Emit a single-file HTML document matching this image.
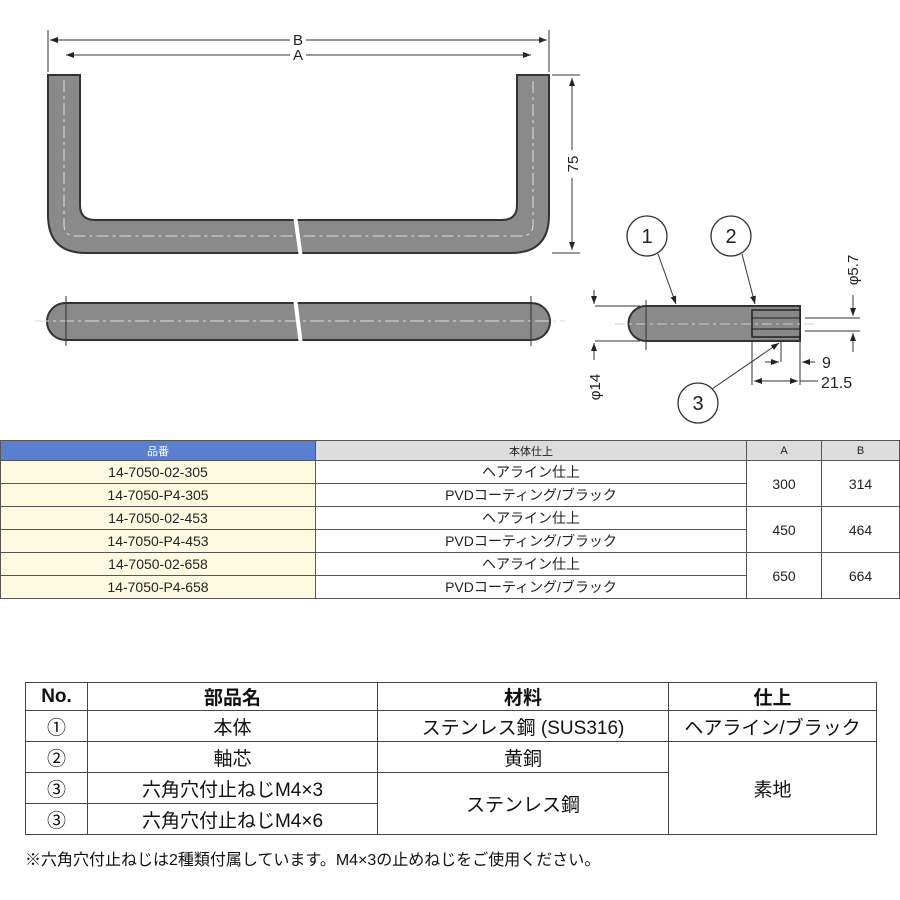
<!DOCTYPE html>
<html><head><meta charset="utf-8"><style>
body{margin:0;width:900px;height:900px;background:#fff;font-family:"Liberation Sans","Noto Sans CJK JP",sans-serif;position:relative;overflow:hidden}
svg{position:absolute;left:0;top:0}
table{position:absolute;border-collapse:collapse}
#t1{left:0;top:440px;width:900px;font-size:14px;color:#222}
#t1 td{border:1px solid #555;height:22px;padding:0;text-align:center}
#t1 .h td{background:#ddd;height:19px;font-size:11px}
#t1 .h td.b{background:#5b7fd0;color:#fff}
#t1 td.y{background:#fcfbe2}
#t2{left:25px;top:682px;width:852px;font-size:19px;color:#111}
#t2 td{border:1.5px solid #444;height:30px;padding:0;text-align:center}
#t2 .h td{font-weight:bold;height:27px}
#note{position:absolute;left:25px;top:846px;font-size:16px;color:#111}
</style></head><body>
<svg width="900" height="440" viewBox="0 0 900 440" font-family="Liberation Sans, sans-serif">
<defs><marker id="a" markerWidth="8" markerHeight="6" refX="8" refY="3" orient="auto"><path d="M0,0L8,3L0,6z" fill="#222"/></marker></defs>
<path d="M48,75 H80 V205 Q80,220 95,220 H502 Q517,220 517,205 V75 H549 V215 Q549,253 511,253 H86 Q48,253 48,215 Z" fill="#8a8a8a" stroke="#333" stroke-width="2"/>
<path d="M64,80 V225 Q64,236 76,236 H521 Q533,236 533,225 V80" fill="none" stroke="#ddd" stroke-dasharray="12,4,3,4" stroke-width="1"/>
<line x1="295" y1="215" x2="301" y2="258" stroke="#fff" stroke-width="4"/>
<line x1="48" y1="30" x2="48" y2="72" stroke="#333"/><line x1="549" y1="30" x2="549" y2="72" stroke="#333"/>
<line x1="50" y1="40" x2="547" y2="40" stroke="#333" marker-end="url(#a)"/><line x1="547" y1="40" x2="50" y2="40" stroke="#333" marker-end="url(#a)"/>
<line x1="66" y1="55" x2="531" y2="55" stroke="#333" marker-end="url(#a)"/><line x1="531" y1="55" x2="66" y2="55" stroke="#333" marker-end="url(#a)"/>
<rect x="290" y="33" width="16" height="13" fill="#fff"/><rect x="290" y="48" width="16" height="13" fill="#fff"/>
<text x="298" y="45" font-size="15" text-anchor="middle" fill="#222">B</text>
<text x="298" y="60" font-size="15" text-anchor="middle" fill="#222">A</text>
<line x1="552" y1="75" x2="580" y2="75" stroke="#333"/><line x1="552" y1="253" x2="580" y2="253" stroke="#333"/>
<line x1="572" y1="78" x2="572" y2="250" stroke="#333" marker-end="url(#a)"/><line x1="572" y1="250" x2="572" y2="78" stroke="#333" marker-end="url(#a)"/>
<rect x="564" y="150" width="16" height="28" fill="#fff"/>
<text x="0" y="0" font-size="15" fill="#222" transform="translate(578,164) rotate(-90)" text-anchor="middle">75</text>
<rect x="47" y="303" width="503" height="37" rx="18.5" fill="#8a8a8a" stroke="#333" stroke-width="2"/>
<line x1="35" y1="321" x2="565" y2="321" stroke="#ddd" stroke-dasharray="14,4,3,4"/>
<line x1="66" y1="296" x2="66" y2="346" stroke="#333"/><line x1="531" y1="296" x2="531" y2="346" stroke="#333"/>
<line x1="295" y1="298" x2="301" y2="345" stroke="#fff" stroke-width="4"/>
<path d="M646,306 H800 V341 H646 A17.5,17.5 0 0 1 646,306Z" fill="#8a8a8a" stroke="#333" stroke-width="2"/>
<rect x="752" y="310" width="48" height="27" fill="#888" stroke="#222" stroke-width="1.5"/>
<line x1="752" y1="318" x2="800" y2="318" stroke="#222"/><line x1="752" y1="329" x2="800" y2="329" stroke="#222"/>
<line x1="615" y1="324" x2="815" y2="324" stroke="#ccc" stroke-dasharray="10,4,3,4"/>
<line x1="646" y1="300" x2="646" y2="350" stroke="#333"/>
<line x1="595" y1="306" x2="640" y2="306" stroke="#333"/><line x1="595" y1="341" x2="640" y2="341" stroke="#333"/>
<line x1="594" y1="290" x2="594" y2="304" stroke="#333" marker-end="url(#a)"/><line x1="594" y1="360" x2="594" y2="343" stroke="#333" marker-end="url(#a)"/>
<text transform="translate(600,387) rotate(-90)" font-size="15" text-anchor="middle" fill="#222">φ14</text>
<line x1="805" y1="318" x2="860" y2="318" stroke="#333"/><line x1="805" y1="331" x2="860" y2="331" stroke="#333"/>
<line x1="853" y1="295" x2="853" y2="316" stroke="#333" marker-end="url(#a)"/><line x1="853" y1="352" x2="853" y2="333" stroke="#333" marker-end="url(#a)"/>
<text transform="translate(858,270) rotate(-90)" font-size="15" text-anchor="middle" fill="#222">φ5.7</text>
<line x1="752" y1="341" x2="752" y2="385" stroke="#333"/><line x1="800" y1="341" x2="800" y2="385" stroke="#333"/><line x1="781" y1="340" x2="781" y2="362" stroke="#333"/>
<line x1="765" y1="362" x2="779" y2="362" stroke="#333" marker-end="url(#a)"/><line x1="815" y1="362" x2="802" y2="362" stroke="#333" marker-end="url(#a)"/>
<text x="822" y="368" font-size="16" fill="#222">9</text>
<line x1="776" y1="381" x2="754" y2="381" stroke="#333" marker-end="url(#a)"/><line x1="776" y1="381" x2="798" y2="381" stroke="#333" marker-end="url(#a)"/>
<line x1="800" y1="381" x2="818" y2="381" stroke="#333"/>
<text x="821" y="388" font-size="16" fill="#222">21.5</text>
<g fill="#fff" stroke="#333" stroke-width="1.3">
<circle cx="647" cy="236" r="20"/><circle cx="731" cy="236" r="20"/><circle cx="698" cy="403" r="20"/></g>
<g font-size="20" text-anchor="middle" fill="#222"><text x="647" y="243">1</text><text x="731" y="243">2</text><text x="698" y="410">3</text></g>
<line x1="658" y1="254" x2="676" y2="304" stroke="#333" marker-end="url(#a)"/>
<line x1="742" y1="254" x2="755" y2="304" stroke="#333" marker-end="url(#a)"/>
<line x1="712" y1="389" x2="779" y2="343" stroke="#333" marker-end="url(#a)"/>
</svg>
<table id="t1">
<tr class="h"><td class="b" style="width:314px">品番</td><td style="width:430px">本体仕上</td><td style="width:74px">A</td><td>B</td></tr>
<tr><td class="y">14-7050-02-305</td><td>ヘアライン仕上</td><td rowspan="2">300</td><td rowspan="2">314</td></tr>
<tr><td class="y">14-7050-P4-305</td><td>PVDコーティング/ブラック</td></tr>
<tr><td class="y">14-7050-02-453</td><td>ヘアライン仕上</td><td rowspan="2">450</td><td rowspan="2">464</td></tr>
<tr><td class="y">14-7050-P4-453</td><td>PVDコーティング/ブラック</td></tr>
<tr><td class="y">14-7050-02-658</td><td>ヘアライン仕上</td><td rowspan="2">650</td><td rowspan="2">664</td></tr>
<tr><td class="y">14-7050-P4-658</td><td>PVDコーティング/ブラック</td></tr>
</table>
<table id="t2">
<tr class="h"><td style="width:61px">No.</td><td style="width:289px">部品名</td><td style="width:290px">材料</td><td>仕上</td></tr>
<tr><td>①</td><td>本体</td><td>ステンレス鋼 (SUS316)</td><td>ヘアライン/ブラック</td></tr>
<tr><td>②</td><td>軸芯</td><td>黄銅</td><td rowspan="3">素地</td></tr>
<tr><td>③</td><td>六角穴付止ねじM4×3</td><td rowspan="2">ステンレス鋼</td></tr>
<tr><td>③</td><td>六角穴付止ねじM4×6</td></tr>
</table>
<div id="note">※六角穴付止ねじは2種類付属しています。M4×3の止めねじをご使用ください。</div>
</body></html>
